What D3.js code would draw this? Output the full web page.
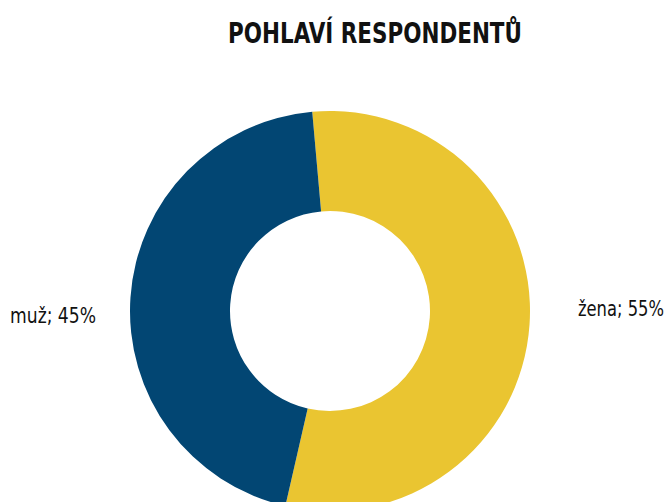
<!DOCTYPE html>
<html>
<head>
<meta charset="utf-8">
<script src="https://cdn.jsdelivr.net/npm/d3@7"></script>
<style>
  body { margin: 0; background: #fff; }
  text { font-family: "DejaVu Sans", "Liberation Sans", sans-serif; font-stretch: condensed; }
</style>
</head>
<body>
<div id="chart"></div>
<script>
var svgWidth = 672;
var svgHeight = 502;

// data
var categories = ["žena", "muž"];
var values = [55, 45];
var colors = ["#EAC531", "#024673"];

var cx = 330, cy = 311;
var outerR = 200, innerR = 100;
var startOffset = -0.089;

var svg = d3.select("#chart")
  .append("svg")
  .attr("width", svgWidth)
  .attr("height", svgHeight);

// squeeze a text to a given width with a horizontal scale (font is wider than the original)
function fitWidth(sel, x, y, w) {
  var natural = sel.node().getComputedTextLength();
  var sx = w / natural;
  sel.attr("x", 0).attr("y", 0)
    .attr("transform", `translate(${x}, ${y}) scale(${sx}, 1)`);
}

var title = svg.append("text")
  .attr("text-anchor", "middle")
  .attr("font-size", "29px")
  .attr("font-weight", "bold")
  .attr("fill", "#111")
  .text("POHLAVÍ RESPONDENTŮ");
fitWidth(title, 375, 43, 294);

var pie = d3.pie()
  .sort(null)
  .startAngle(startOffset)
  .endAngle(startOffset + 2 * Math.PI);

var arc = d3.arc()
  .innerRadius(innerR)
  .outerRadius(outerR);

var slices = pie(values);

var chartGroup = svg.append("g")
  .attr("transform", `translate(${cx}, ${cy})`);

chartGroup.selectAll("path")
  .data(slices)
  .enter()
  .append("path")
  .attr("d", arc)
  .attr("fill", (d, i) => colors[i]);

// labels outside the ring
var labelPos = [
  { x: outerR + 48, y: 5, anchor: "start", w: 86 },
  { x: -(outerR + 34), y: 12, anchor: "end", w: 86 }
];

chartGroup.selectAll(".lbl")
  .data(slices)
  .enter()
  .append("text")
  .attr("class", "lbl")
  .attr("text-anchor", (d, i) => labelPos[i].anchor)
  .attr("font-size", "22px")
  .attr("fill", "#111")
  .text((d, i) => `${categories[i]}; ${values[i]}%`)
  .each(function(d, i) {
    fitWidth(d3.select(this), labelPos[i].x, labelPos[i].y, labelPos[i].w);
  });
</script>
</body>
</html>
